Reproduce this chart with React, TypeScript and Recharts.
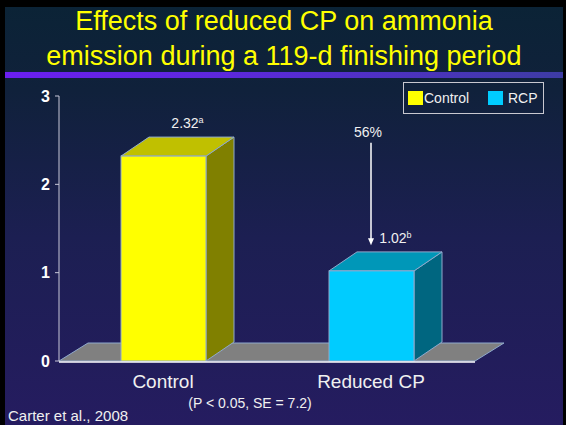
import React from 'react';
import {
  BarChart,
  Bar,
  XAxis,
  YAxis,
  ReferenceArea,
  ReferenceLine,
  LabelList,
} from 'recharts';

// chart values
const categories = ['Control', 'Reduced CP'];
const legendNames = ['Control', 'RCP'];
const emission = [2.32, 1.02];
const letters = ['a', 'b'];
const yTicks = [0, 1, 2, 3];
const edgeTicks = [0, 1, 2];
const reductionLabel = '56%';
const arrowFrom = 2.47;
const arrowTo = 1.31;

const frontColors = ['#ffff00', '#00ccff'];
const topColors = ['#c0c000', '#0097b8'];
const sideColors = ['#808000', '#006680'];

// pos = middle of each category on the numeric "edge" axis
const data = categories.map((name, i) => ({ name, value: emission[i], pos: i + 0.5 }));

const FONT = '"Liberation Sans", Arial, sans-serif';
const EDGE = '#8fa9cc';
const DX = 28;
const DY = 19;

// 3D box: side, top, then front face
function Bar3D(props: any) {
  const { x, y, width, height, index } = props;
  const r = x + width;
  const b = y + height;
  return (
    <g>
      <polygon
        points={`${r},${y} ${r + DX},${y - DY} ${r + DX},${b - DY} ${r},${b}`}
        fill={sideColors[index]}
        stroke={EDGE}
      />
      <polygon
        points={`${x},${y} ${x + DX},${y - DY} ${r + DX},${y - DY} ${r},${y}`}
        fill={topColors[index]}
        stroke={EDGE}
      />
      <rect x={x} y={y} width={width} height={height} fill={frontColors[index]} stroke={EDGE} />
    </g>
  );
}

function Floor(props: any) {
  const { x, y, width, height } = props;
  const b = y + height;
  return (
    <polygon
      points={`${x},${b} ${x + width},${b} ${x + width + DX + 1},${b - DY + 1} ${x + DX + 1},${b - DY + 1}`}
      fill="#808080"
      stroke={EDGE}
    />
  );
}

function ValueLabel(props: any) {
  const { x, y, width, index, value } = props;
  return (
    <text
      x={x + width / 2 + DX / 2 + 10}
      y={y - 28}
      textAnchor="middle"
      fill="#f0f0f0"
      fontSize={14}
      fontFamily={FONT}
    >
      {Number(value).toFixed(2)}
      <tspan fontSize={9} dy={-5}>
        {letters[index]}
      </tspan>
    </text>
  );
}

function Arrow(props: any) {
  const { x1, y1, x2, y2 } = props;
  return (
    <g>
      <line x1={x1} y1={y1} x2={x2} y2={y2 - 6} stroke="#ffffff" strokeWidth={1.5} />
      <polygon points={`${x2 - 3},${y2 - 7} ${x2 + 3},${y2 - 7} ${x2},${y2}`} fill="#ffffff" />
      <text x={x1 - 3} y={y1 - 6} textAnchor="middle" fill="#f0f0f0" fontSize={14} fontFamily={FONT}>
        {reductionLabel}
      </text>
    </g>
  );
}

function CategoryTick(props: any) {
  const { x, y, payload } = props;
  return (
    <text x={x} y={y + 27} textAnchor="middle" fill="#f0f0f0" fontSize={19} fontFamily={FONT}>
      {payload.value}
    </text>
  );
}

export default function App() {
  return (
    <div style={{ position: 'absolute', left: 0, top: 0, width: 566, height: 425, background: '#000' }}>
      <div
        style={{
          position: 'absolute',
          left: 5,
          top: 7,
          width: 558,
          height: 418,
          background: 'linear-gradient(180deg, #0b2336 0%, #10213b 20%, #1c1f52 55%, #251c60 100%)',
        }}
      />
      <div
        style={{
          position: 'absolute',
          left: 5,
          top: 72,
          width: 558,
          height: 6,
          background: 'linear-gradient(90deg, #6b1ff0 0%, #5a2ad8 45%, #3d3ca4 100%)',
        }}
      />
      <div
        style={{
          position: 'absolute',
          left: 5,
          top: 4,
          width: 558,
          textAlign: 'center',
          color: '#ffff00',
          fontFamily: FONT,
          fontSize: 27,
          lineHeight: '35px',
        }}
      >
        Effects of reduced CP on ammonia
        <br />
        emission during a 119-d finishing period
      </div>

      <div style={{ position: 'absolute', left: 0, top: 0 }}>
        <BarChart
          width={566}
          height={425}
          data={data}
          margin={{ top: 96, right: 91, bottom: 62, left: 19 }}
          barSize={85}
        >
          <XAxis
            xAxisId="edge"
            type="number"
            dataKey="pos"
            domain={[0, 2]}
            allowDataOverflow
            ticks={edgeTicks}
            tick={false}
            height={1}
            tickSize={4}
            axisLine={{ stroke: '#ffffff', strokeWidth: 1.5 }}
            tickLine={{ stroke: '#ffffff' }}
          />
          <XAxis
            xAxisId="cat"
            dataKey="name"
            height={1}
            axisLine={false}
            tickLine={false}
            tickSize={0}
            tickMargin={0}
            tick={<CategoryTick />}
          />
          <YAxis
            domain={[0, 3]}
            ticks={yTicks}
            width={40}
            tickSize={4}
            tickMargin={5}
            axisLine={{ stroke: '#c8c8d8' }}
            tickLine={{ stroke: '#c8c8d8' }}
            tick={{ fill: '#ffffff', fontSize: 16, fontWeight: 'bold', fontFamily: FONT }}
          />
          <ReferenceArea xAxisId="edge" x1={0} x2={2} y1={0} y2={3} shape={<Floor />} ifOverflow="visible" />
          <Bar xAxisId="cat" dataKey="value" shape={<Bar3D />} isAnimationActive={false}>
            <LabelList dataKey="value" content={<ValueLabel />} />
          </Bar>
          <ReferenceLine
            xAxisId="edge"
            segment={[
              { x: 1.5, y: arrowFrom },
              { x: 1.5, y: arrowTo },
            ]}
            shape={<Arrow />}
            ifOverflow="visible"
          />
        </BarChart>
      </div>

      <div
        style={{
          position: 'absolute',
          left: 403,
          top: 82,
          width: 139,
          height: 30,
          border: '1px solid #c8c8d0',
          fontFamily: FONT,
          fontSize: 14,
          color: '#f0f0f0',
        }}
      >
        {legendNames.map((n, i) => (
          <div
            key={n}
            style={{ position: 'absolute', left: i === 0 ? 4 : 84, top: 8, display: 'flex', alignItems: 'center' }}
          >
            <span style={{ display: 'inline-block', width: 15, height: 14, background: frontColors[i] }} />
            <span style={{ marginLeft: i === 0 ? 1 : 5, lineHeight: '14px' }}>{n}</span>
          </div>
        ))}
      </div>

      <div
        style={{
          position: 'absolute',
          left: 130,
          top: 395,
          width: 240,
          textAlign: 'center',
          fontFamily: FONT,
          fontSize: 14,
          color: '#f0f0f0',
        }}
      >
        (P &lt; 0.05, SE = 7.2)
      </div>
      <div
        style={{ position: 'absolute', left: 8, top: 407, fontFamily: FONT, fontSize: 15, color: '#f0f0f0' }}
      >
        Carter et al., 2008
      </div>
    </div>
  );
}
